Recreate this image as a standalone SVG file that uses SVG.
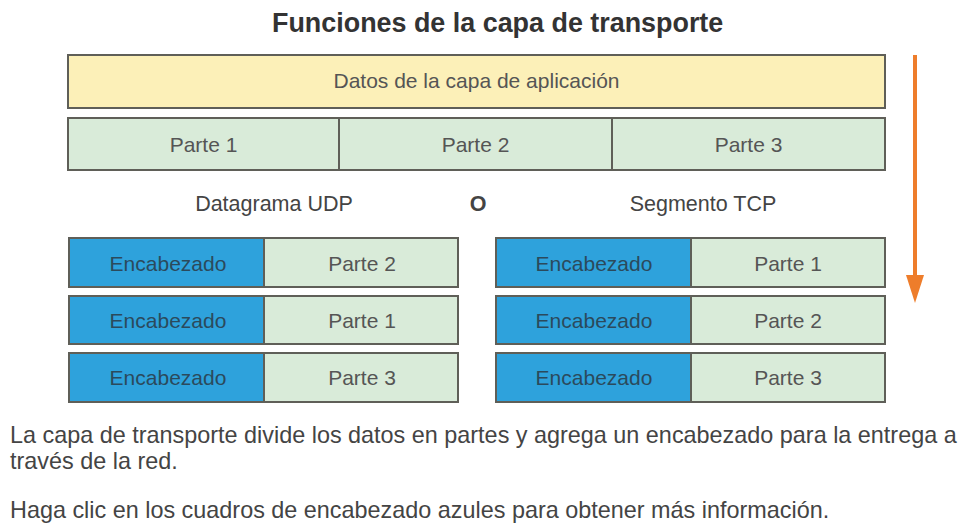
<svg xmlns="http://www.w3.org/2000/svg" width="963" height="524" viewBox="0 0 963 524">
<defs>
<style>
text{font-family:"Liberation Sans",Arial,sans-serif}
.box{stroke:#5f5f58;stroke-width:2}
.yel{fill:#fcf0b8}
.grn{fill:#d9ebd9}
.blu{fill:#2ea2dc}
.t{font-size:21px;fill:#555;text-anchor:middle}
.h{font-size:21px;fill:#2b4a5c;text-anchor:middle}
.m{font-size:21.5px;fill:#444;text-anchor:middle}
.b{font-size:23.4px;fill:#444}
</style>
</defs>
<rect width="963" height="524" fill="#ffffff"/>
<text x="272" y="32" font-size="26.9" font-weight="bold" fill="#333">Funciones de la capa de transporte</text>

<g id="datos-aplicacion">
<rect class="box yel" x="68" y="55" width="817" height="53"/>
<text class="t" x="476.5" y="88">Datos de la capa de aplicación</text>
</g>
<g id="partes">
<rect class="box grn" x="68" y="118" width="817" height="52"/>
<line class="box" x1="339" y1="118" x2="339" y2="170"/>
<line class="box" x1="612" y1="118" x2="612" y2="170"/>
<text class="t" x="203.5" y="152">Parte 1</text>
<text class="t" x="475.5" y="152">Parte 2</text>
<text class="t" x="748.5" y="152">Parte 3</text>
</g>

<text class="m" x="274" y="211">Datagrama UDP</text>
<text class="m" x="478" y="211" font-weight="bold" fill="#333">O</text>
<text class="m" x="703" y="211">Segmento TCP</text>

<g id="udp-1">
<rect class="box blu" x="69" y="238" width="195" height="49"/>
<rect class="box grn" x="264" y="238" width="194" height="49"/>
<text class="h" x="168" y="271">Encabezado</text>
<text class="t" x="362" y="271">Parte 2</text>
</g>
<g id="udp-2">
<rect class="box blu" x="69" y="296" width="195" height="48"/>
<rect class="box grn" x="264" y="296" width="194" height="48"/>
<text class="h" x="168" y="328">Encabezado</text>
<text class="t" x="362" y="328">Parte 1</text>
</g>
<g id="udp-3">
<rect class="box blu" x="69" y="353" width="195" height="49"/>
<rect class="box grn" x="264" y="353" width="194" height="49"/>
<text class="h" x="168" y="385">Encabezado</text>
<text class="t" x="362" y="385">Parte 3</text>
</g>

<g id="tcp-1">
<rect class="box blu" x="496" y="238" width="195" height="49"/>
<rect class="box grn" x="691" y="238" width="194" height="49"/>
<text class="h" x="594" y="271">Encabezado</text>
<text class="t" x="788" y="271">Parte 1</text>
</g>
<g id="tcp-2">
<rect class="box blu" x="496" y="296" width="195" height="48"/>
<rect class="box grn" x="691" y="296" width="194" height="48"/>
<text class="h" x="594" y="328">Encabezado</text>
<text class="t" x="788" y="328">Parte 2</text>
</g>
<g id="tcp-3">
<rect class="box blu" x="496" y="353" width="195" height="49"/>
<rect class="box grn" x="691" y="353" width="194" height="49"/>
<text class="h" x="594" y="385">Encabezado</text>
<text class="t" x="788" y="385">Parte 3</text>
</g>

<g id="connectors">
<line x1="915" y1="55" x2="915" y2="280" stroke="#ee7d2b" stroke-width="4"/>
<polygon points="906,275 924,275 915,303" fill="#ee7d2b"/>
</g>

<text class="b" x="10" y="443">La capa de transporte divide los datos en partes y agrega un encabezado para la entrega a</text>
<text class="b" x="10" y="469">través de la red.</text>
<text class="b" x="10" y="518">Haga clic en los cuadros de encabezado azules para obtener más información.</text>
</svg>
